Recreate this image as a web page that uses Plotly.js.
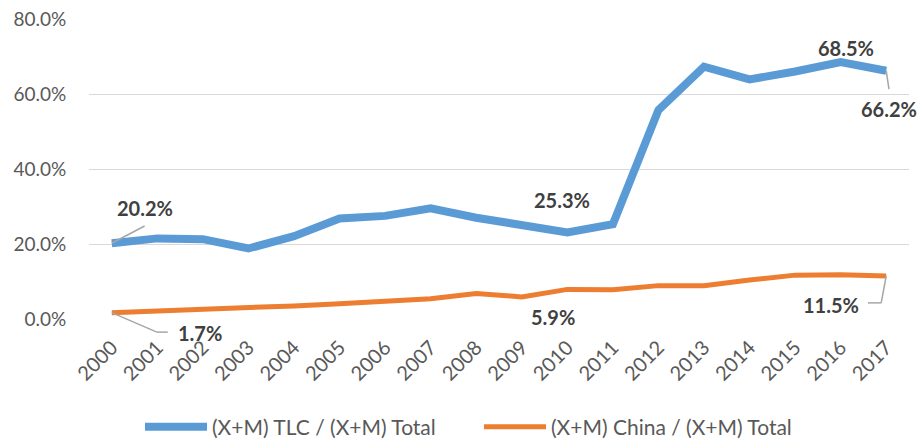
<!DOCTYPE html>
<html>
<head>
<meta charset="utf-8">
<script src="https://cdn.plot.ly/plotly-3.0.1.min.js"></script>
<style>html,body{margin:0;padding:0;background:#fff;}#chart{width:922px;height:441px;}</style>
</head>
<body>
<div id="chart"></div>
<script>
const years = ["2000","2001","2002","2003","2004","2005","2006","2007","2008","2009","2010","2011","2012","2013","2014","2015","2016","2017"];
const tlcShare = [20.2, 21.5, 21.3, 18.8, 22.1, 26.8, 27.5, 29.5, 27.0, 25.1, 23.1, 25.3, 55.7, 67.3, 63.9, 66.0, 68.5, 66.2];
const chinaShare = [1.7, 2.1, 2.5, 3.0, 3.5, 4.1, 4.7, 5.4, 6.8, 5.9, 7.9, 7.8, 8.9, 8.9, 10.4, 11.7, 11.8, 11.5];
const seriesNames = ["(X+M) TLC / (X+M) Total", "(X+M) China / (X+M) Total"];
const yTicks = [0, 20, 40, 60, 80];
const yTickText = ["0.0%", "20.0%", "40.0%", "60.0%", "80.0%"];

const FONT = "Lato, 'Open Sans', sans-serif";
const nCat = years.length;
const xRange = [-0.5, nCat - 0.5];
const yRange = [0, 80];
const px = i => (i - xRange[0]) / (xRange[1] - xRange[0]);
const py = v => (v - yRange[0]) / (yRange[1] - yRange[0]);
const fmt = v => v.toFixed(1) + "%";

const traces = [
  {x: years, y: tlcShare, name: seriesNames[0], type: "scatter", mode: "lines",
   line: {color: "#5b9bd5", width: 8, shape: "linear"}, hoverinfo: "skip"},
  {x: years, y: chinaShare, name: seriesNames[1], type: "scatter", mode: "lines",
   line: {color: "#ed7d31", width: 5, shape: "linear"}, hoverinfo: "skip"}
];

const labFont = {family: FONT, size: 20, color: "#404040", weight: 700};
// label anchored at the data value, offset in pixels
function lab(i, v, dx, ysh) {
  return {xref: "x", yref: "y", x: i + dx, y: v, yshift: ysh, text: "<b>" + fmt(v) + "</b>",
          showarrow: false, font: labFont, xanchor: "center", yanchor: "middle"};
}
const last = nCat - 1;
const annotations = [
  lab(0, tlcShare[0], 0.73, 35),
  lab(0, chinaShare[0], 1.93, -20),
  lab(11, tlcShare[11], -1.11, 24),
  lab(9, chinaShare[9], 0.69, -20),
  lab(16, tlcShare[16], 0.11, 14),
  lab(last, tlcShare[last], 0.05, -38),
  lab(last, chinaShare[last], -1.22, -29)
];

const lc = {color: "#a6a6a6", width: 1.5};
function seg(i0, v0, i1, v1) {
  return {type: "line", xref: "paper", yref: "paper", x0: px(i0), y0: py(v0), x1: px(i1), y1: py(v1), line: lc};
}
const shapes = [
  seg(0, tlcShare[0], 0.72, tlcShare[0] + 4.6),
  seg(0, chinaShare[0], 0.99, chinaShare[0] - 5.2),
  seg(0.99, chinaShare[0] - 5.2, 1.23, chinaShare[0] - 5.2),
  seg(last, tlcShare[last], last + 0.06, tlcShare[last] - 4.9),
  seg(last, chinaShare[last], last - 0.11, chinaShare[last] - 7.2),
  seg(last - 0.11, chinaShare[last] - 7.2, last - 0.4, chinaShare[last] - 7.2)
];

const layout = {
  width: 922, height: 441,
  margin: {l: 89, r: 13, t: 19, b: 122},
  paper_bgcolor: "#ffffff", plot_bgcolor: "#ffffff",
  font: {family: FONT, color: "#595959", size: 18},
  showlegend: true,
  legend: {orientation: "h", x: 140 / 922, xanchor: "left", xref: "container", yref: "container",
           y: 14 / 441, yanchor: "middle", entrywidth: 262, entrywidthmode: "pixels",
           font: {family: FONT, size: 21, color: "#595959"}, itemwidth: 62, traceorder: "normal"},
  xaxis: {type: "category", range: xRange, tickangle: -45, showgrid: false, zeroline: false, automargin: false,
          showline: false, ticks: "outside", ticklen: 8, tickcolor: "rgba(0,0,0,0)",
          tickfont: {family: FONT, size: 20, color: "#595959"}, fixedrange: true},
  yaxis: {range: yRange, tickvals: yTicks, ticktext: yTickText, showgrid: true, gridcolor: "#d9d9d9", gridwidth: 1,
          zeroline: false, showline: false, ticks: "outside", ticklen: 18, tickcolor: "rgba(0,0,0,0)", automargin: false,
          tickfont: {family: FONT, size: 19, color: "#595959"}, fixedrange: true},
  annotations: annotations,
  shapes: shapes
};

Plotly.newPlot("chart", traces, layout, {displayModeBar: false, staticPlot: true});
</script>
</body>
</html>
